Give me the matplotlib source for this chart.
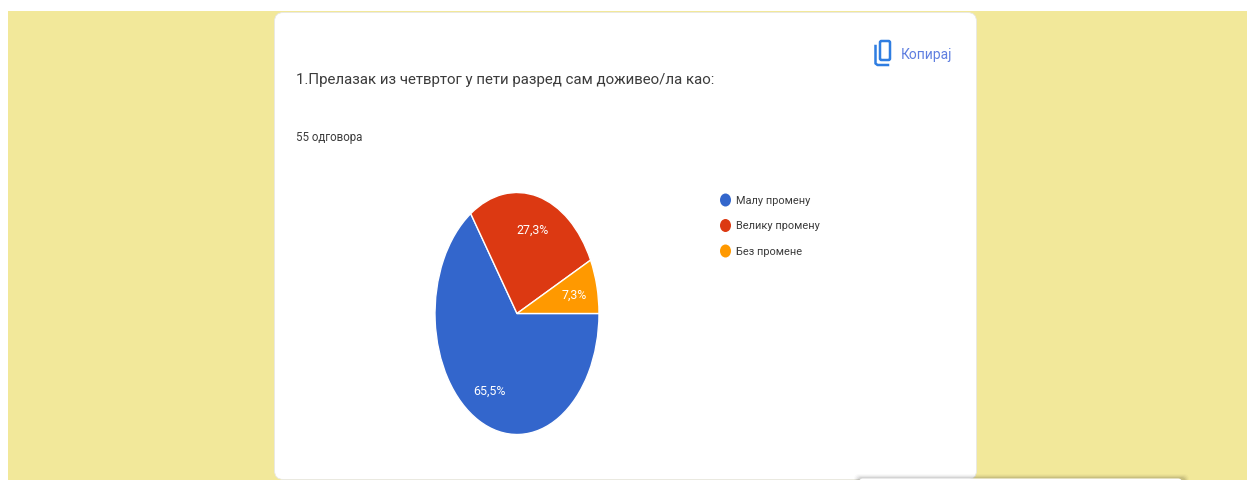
import matplotlib.pyplot as plt
from matplotlib.patches import Ellipse, FancyBboxPatch, Rectangle

# Data
categories = ["Малу промену", "Велику промену", "Без промене"]
answers = [36, 15, 4]
colors = ["#3366cc", "#dc3912", "#ff9900"]
title = "1.Прелазак из четвртог у пети разред сам доживео/ла као:"
subtitle = "55 одговора"
copy_label = "Копирај"

plt.rcParams['font.family'] = ['Roboto', 'DejaVu Sans']

W, H = 1247, 481
fig = plt.figure(figsize=(W / 100, H / 100), dpi=100, facecolor="white")

# page background in pixel coordinates
bg = fig.add_axes([0, 0, 1, 1])
bg.set_xlim(0, W)
bg.set_ylim(H, 0)
bg.axis("off")
bg.add_patch(Rectangle((8, 12), W - 8, H - 12, color="#f2e89a", lw=0))

# card
bg.add_patch(FancyBboxPatch((274.5, 13.5), 702, 467, boxstyle="round,pad=0,rounding_size=9",
                            fc="white", ec="#e8e8e4", lw=0.6))

bg.text(296, 80, title, fontsize=10.85, color="#3c3c3c", va="center", ha="left")
bg.text(296, 137.5, subtitle, fontsize=8.3, color="#3c3c3c", va="center", ha="left")

# copy button
bg.add_patch(FancyBboxPatch((880, 42), 10, 19, boxstyle="round,pad=0,rounding_size=1.5",
                            fc="none", ec="#2f7de1", lw=1.8))
bg.plot([875.5, 875.5, 877.5, 888], [47, 64.5, 66, 66], color="#2f7de1", lw=1.8)
bg.text(901, 54.5, copy_label, fontsize=10, color="#5f7fe0", va="center", ha="left")

# popup peeking in at the bottom
for i, alpha in enumerate([0.02, 0.03, 0.05, 0.07]):
    bg.add_patch(FancyBboxPatch((854 + i, 475 + i), 335 - 2 * i, 30,
                                boxstyle="round,pad=0,rounding_size=5",
                                fc="black", ec="none", alpha=alpha))
bg.add_patch(FancyBboxPatch((859, 479.5), 323, 20, boxstyle="round,pad=0,rounding_size=4",
                            fc="white", ec="none"))

# pie, stretched like the screenshot
ax = fig.add_axes([435 / W, 1 - 435.5 / H, 164 / W, 242 / H])
ax.pie(
    answers, colors=colors, startangle=0, counterclock=False, radius=1,
    wedgeprops={"edgecolor": "white", "linewidth": 1},
    autopct=lambda p: f"{p:.1f}%".replace(".", ","), pctdistance=0.72,
    textprops={"color": "white", "fontsize": 8.9},
)
ax.set_aspect("auto")
ax.set_xlim(-1, 1)
ax.set_ylim(-1, 1)

# legend
for y, c, name in zip((201, 226.5, 252), colors, categories):
    bg.add_patch(Ellipse((725.5, y), 11, 13, fc=c, ec="none"))
    bg.text(735.5, y, name, fontsize=7.9, color="#3c3c3c", va="center", ha="left")

fig.savefig("out.png", dpi=100, facecolor="white")
